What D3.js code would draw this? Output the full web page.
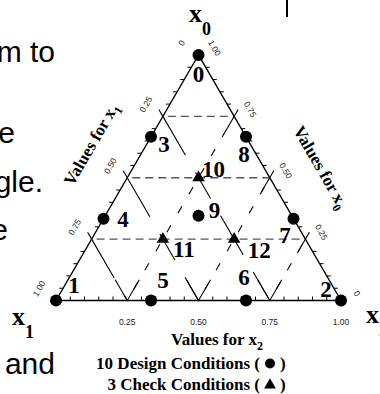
<!DOCTYPE html>
<html>
<head>
<meta charset="utf-8">
<script src="https://cdn.jsdelivr.net/npm/d3@7"></script>
<style>
  html, body { margin: 0; padding: 0; background: #fff; }
  svg { display: block; }
</style>
</head>
<body>
<svg id="chart" width="380" height="394"></svg>
<script>
// {3,3} simplex-lattice design points, components [x0, x1, x2]
const designIds = ["0", "1", "2", "3", "4", "5", "6", "7", "8", "9"];
const designX0 = [1, 0, 0, 2/3, 1/3, 0, 0, 1/3, 2/3, 0.345];
const designX1 = [0, 1, 0, 1/3, 2/3, 2/3, 1/3, 0, 0, 0.3275];
const designX2 = [0, 0, 1, 0, 0, 1/3, 2/3, 2/3, 1/3, 0.3275];

// check points
const checkIds = ["10", "11", "12"];
const checkX0 = [0.5, 0.25, 0.25];
const checkX1 = [0.25, 0.5, 0.25];
const checkX2 = [0.25, 0.25, 0.5];

// grid levels and tick labels
const gridLevels = [0.25, 0.5, 0.75];
const majorTicks = [0, 0.25, 0.5, 0.75, 1];
const tickLabelsX1 = ["0", "0.25", "0.50", "0.75", "1.00"];
const tickLabelsX0 = ["0", "0.25", "0.50", "0.75", "1.00"];
const tickLabelsX2 = ["", "0.25", "0.50", "0.75", "1.00"];

// fragments of slide text beside the figure
const sideText = ["m to", "e", "gle.", "e", "and"];

const svg = d3.select("#chart");

// ternary frame: x2 runs along the base, x0 goes up to the apex
const xs = d3.scaleLinear().domain([0, 1]).range([56, 341]);
const ys = d3.scaleLinear().domain([0, 1]).range([300.5, 55]);
const P = (x0, x1, x2) => {
  const s = x0 + x1 + x2;
  return [xs((x2 + x0 / 2) / s), ys(x0 / s)];
};
const line = d3.line();

const serif = "'Liberation Serif', 'Times New Roman', serif";
const sans = "'Liberation Sans', Arial, sans-serif";

// slide text (clipped at the left side of the view)
const sideLayout = [[55, 62], [15, 143], [43, 192], [8, 240], [55, 374]];
svg.append("g").selectAll("text").data(sideText).join("text")
  .attr("x", (d, i) => sideLayout[i][0])
  .attr("y", (d, i) => sideLayout[i][1])
  .attr("text-anchor", "end")
  .attr("font-family", sans)
  .attr("font-size", 30)
  .attr("fill", "#000")
  .text(d => d);

svg.append("line").attr("x1", 287).attr("x2", 287).attr("y1", 0).attr("y2", 17)
  .attr("stroke", "#000").attr("stroke-width", 2);

const grid = svg.append("g").attr("fill", "none");

// constant x0 lines
grid.selectAll(".g0").data(gridLevels).join("path")
  .attr("d", c => line([P(c, 1 - c, 0), P(c, 0, 1 - c)]))
  .attr("stroke", "#555").attr("stroke-width", 1.3)
  .attr("stroke-dasharray", "8,5").attr("stroke-dashoffset", -5);

// constant x1 lines (from left edge down to base)
grid.selectAll(".g1").data(gridLevels).join("path")
  .attr("d", c => line([P(1 - c, c, 0), P(0, c, 1 - c)]))
  .attr("stroke", "#000").attr("stroke-width", 1.1)
  .attr("stroke-dasharray", "45,20,30,20");

// constant x2 lines (from base up to right edge)
grid.selectAll(".g2").data(gridLevels).join("path")
  .attr("d", c => line([P(0, 1 - c, c), P(1 - c, 0, c)]))
  .attr("stroke", "#000").attr("stroke-width", 1.1)
  .attr("stroke-dasharray", "8,14").attr("stroke-dashoffset", 9);

// short solid starts of the grid lines at the major ticks
const ux = 0.502, uy = 0.865;
gridLevels.forEach(c => {
  const b = P(0, 1 - c, c);
  grid.append("path").attr("d", line([[b[0] - 24 * ux, b[1] - 24 * uy], b, [b[0] + 24 * ux, b[1] - 24 * uy]]))
    .attr("stroke", "#000").attr("stroke-width", 1.1);
  const r = P(c, 0, 1 - c);
  grid.append("path").attr("d", line([[r[0] + 8 * ux, r[1] - 8 * uy], [r[0] - 16 * ux, r[1] + 16 * uy]]))
    .attr("stroke", "#000").attr("stroke-width", 1.1);
  const l = P(1 - c, c, 0);
  grid.append("path").attr("d", line([[l[0] - 8 * ux, l[1] - 8 * uy], l]))
    .attr("stroke", "#000").attr("stroke-width", 1.1);
});

// frame
svg.append("path")
  .attr("d", line([P(1, 0, 0), P(0, 1, 0), P(0, 0, 1)]) + "Z")
  .attr("fill", "none").attr("stroke", "#000").attr("stroke-width", 1.4);

// minor ticks every 0.05
const minor = d3.range(1, 20).map(i => i / 20).filter(v => Math.abs(v * 4 - Math.round(v * 4)) > 1e-6);
const ticks = svg.append("g").attr("stroke", "#000").attr("stroke-width", 1);
minor.forEach(v => {
  const l = P(1 - v, v, 0);
  ticks.append("line").attr("x1", l[0]).attr("y1", l[1]).attr("x2", l[0] - 4).attr("y2", l[1]);
  const r = P(v, 0, 1 - v);
  ticks.append("line").attr("x1", r[0]).attr("y1", r[1]).attr("x2", r[0] + 4).attr("y2", r[1]);
  const b = P(0, 1 - v, v);
  ticks.append("line").attr("x1", b[0]).attr("y1", b[1]).attr("x2", b[0]).attr("y2", b[1] - 4);
});

// tick labels
const tl = svg.append("g").attr("font-family", sans).attr("font-size", 8.5).attr("fill", "#222")
  .attr("text-anchor", "middle").attr("dominant-baseline", "central");
majorTicks.forEach((v, i) => {
  const l = P(1 - v, v, 0);
  tl.append("text").attr("transform", `translate(${l[0] - 17},${l[1] - 12}) rotate(-60)`).text(tickLabelsX1[i]);
  const r = P(v, 0, 1 - v);
  tl.append("text").attr("transform", `translate(${r[0] + 16},${r[1] - 7}) rotate(60)`).text(tickLabelsX0[i]);
  const b = P(0, 1 - v, v);
  if (tickLabelsX2[i]) tl.append("text").attr("x", b[0]).attr("y", b[1] + 21).text(tickLabelsX2[i]);
});

// axis titles
const titleFont = (sel, size) => sel.attr("font-family", serif).attr("font-weight", "bold").attr("font-size", size).attr("fill", "#000");
function subText(sel, main, sub) {
  sel.append("tspan").text(main);
  sel.append("tspan").attr("font-size", 12).attr("dy", 5).text(sub);
}
subText(titleFont(svg.append("text"), 17).attr("text-anchor", "middle")
  .attr("transform", "translate(96,147) rotate(-60)"), "Values for x", "1");
subText(titleFont(svg.append("text"), 17).attr("text-anchor", "middle")
  .attr("transform", "translate(316,170) rotate(60)"), "Values for x", "0");
subText(titleFont(svg.append("text"), 17).attr("text-anchor", "middle")
  .attr("x", 217).attr("y", 345), "Values for x", "2");

// vertex names
function vertexName(x, y, sub) {
  const t = titleFont(svg.append("text"), 26).attr("x", x).attr("y", y);
  t.append("tspan").text("x");
  t.append("tspan").attr("font-size", 18).attr("dy", 13).text(sub);
}
vertexName(189, 22, "0");
vertexName(12, 325, "1");
vertexName(366, 323, "2");

// markers
const designPts = designIds.map((id, i) => ({ id, p: P(designX0[i], designX1[i], designX2[i]) }));
const checkPts = checkIds.map((id, i) => ({ id, p: P(checkX0[i], checkX1[i], checkX2[i]) }));

svg.append("g").selectAll("circle").data(designPts).join("circle")
  .attr("cx", d => d.p[0]).attr("cy", d => d.p[1]).attr("r", 6).attr("fill", "#000");

const tri = d3.symbol().type(d3.symbolTriangle).size(68);
svg.append("g").selectAll("path").data(checkPts).join("path")
  .attr("transform", d => `translate(${d.p[0]},${d.p[1]})`).attr("d", tri).attr("fill", "#000");

// point numbers: label offsets from each marker
const labelOffset = {
  "0": [0, 27], "1": [18, -7.5], "2": [-15, -3.5], "3": [13, 15], "4": [19.5, 8],
  "5": [12, -12.5], "6": [-2, -15.5], "7": [-8.5, 24.5], "8": [-2, 25], "9": [16, 2.5],
  "10": [15, -1], "11": [21, 18], "12": [25, 19]
};
titleFont(svg.append("g"), 23).attr("text-anchor", "middle")
  .selectAll("text").data(designPts.concat(checkPts)).join("text")
  .attr("x", d => d.p[0] + labelOffset[d.id][0])
  .attr("y", d => d.p[1] + labelOffset[d.id][1])
  .text(d => d.id);

// legend
const legendRows = [
  { text: "10 Design Conditions (", shape: "circle", y: 369 },
  { text: "3 Check Conditions (", shape: "triangle", y: 390 }
];
const lg = titleFont(svg.append("g"), 17);
legendRows.forEach(r => {
  lg.append("text").attr("x", 260).attr("y", r.y).attr("text-anchor", "end").text(r.text);
  lg.append("text").attr("x", 280).attr("y", r.y).text(")");
  if (r.shape === "circle") {
    svg.append("circle").attr("cx", 270).attr("cy", r.y - 5.5).attr("r", 5).attr("fill", "#000");
  } else {
    svg.append("path").attr("transform", `translate(270,${r.y - 5})`)
      .attr("d", d3.symbol().type(d3.symbolTriangle).size(60)).attr("fill", "#000");
  }
});
</script>
</body>
</html>
